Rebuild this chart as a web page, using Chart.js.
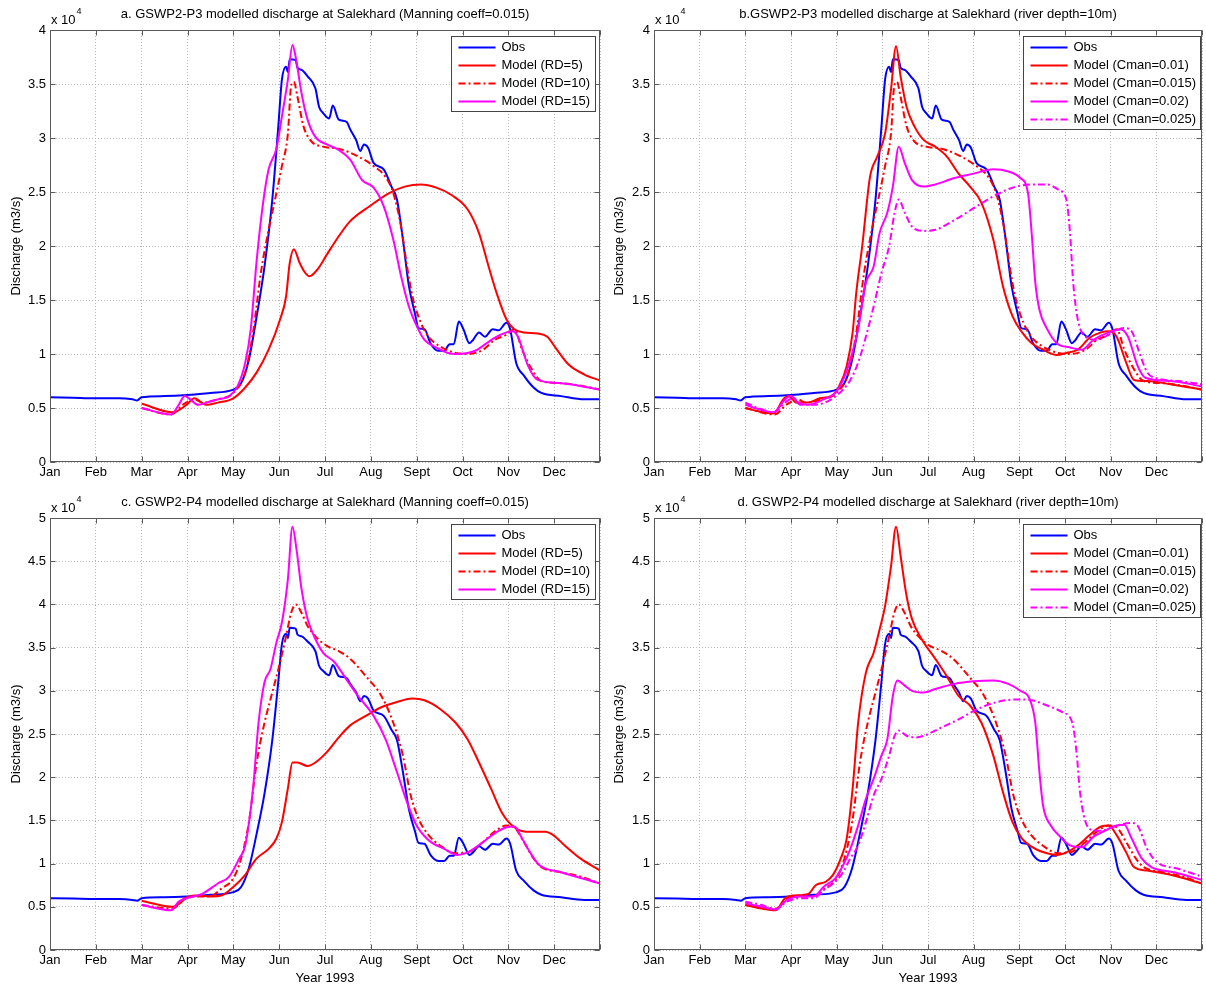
<!DOCTYPE html>
<html>
<head>
<meta charset="utf-8">
<script src="https://cdn.jsdelivr.net/npm/chart.js@4.4.1/dist/chart.umd.min.js"></script>
<style>
  body { margin: 0; background: #fff; }
  .panel { position: absolute; }
</style>
</head>
<body>
<div class="panel" style="left:0;top:0"><canvas id="chartA" width="603" height="490"></canvas></div>
<div class="panel" style="left:603px;top:0"><canvas id="chartB" width="603" height="490"></canvas></div>
<div class="panel" style="left:0;top:490px"><canvas id="chartC" width="603" height="502"></canvas></div>
<div class="panel" style="left:603px;top:490px"><canvas id="chartD" width="603" height="502"></canvas></div>
<script>
// x = month of 1993 (0 = 1 Jan, 12 = end of Dec), y = discharge in 10^4 m3/s
const months = ['Jan', 'Feb', 'Mar', 'Apr', 'May', 'Jun', 'Jul', 'Aug', 'Sept', 'Oct', 'Nov', 'Dec'];

const obs = [[0,0.60],[0.5,0.595],[1.0,0.59],[1.5,0.59],[1.8,0.58],[1.9,0.57],[2.0,0.60],[2.5,0.61],[3.0,0.62],[3.5,0.64],[4.0,0.67],[4.17,0.73],[4.34,0.95],[4.51,1.35],[4.68,1.81],[4.85,2.43],[4.98,3.10],[5.06,3.54],[5.15,3.66],[5.19,3.61],[5.23,3.73],[5.36,3.72],[5.40,3.65],[5.49,3.63],[5.62,3.57],[5.79,3.46],[5.87,3.29],[5.96,3.23],[6.09,3.18],[6.17,3.30],[6.30,3.17],[6.47,3.15],[6.55,3.08],[6.68,2.98],[6.77,2.88],[6.85,2.94],[6.94,2.91],[7.06,2.77],[7.28,2.71],[7.45,2.55],[7.57,2.43],[7.70,2.06],[7.83,1.63],[7.96,1.38],[8.04,1.24],[8.17,1.23],[8.30,1.10],[8.47,1.03],[8.60,1.03],[8.72,1.09],[8.81,1.09],[8.92,1.30],[9.02,1.23],[9.15,1.10],[9.23,1.13],[9.36,1.20],[9.49,1.16],[9.66,1.23],[9.79,1.22],[9.96,1.29],[10.04,1.23],[10.17,0.92],[10.34,0.80],[10.55,0.69],[10.72,0.64],[11.15,0.61],[11.66,0.58],[12,0.58]];

// GSWP2-P3 runs
const p3rd5 = [[2,0.54],[2.68,0.46],[2.98,0.53],[3.15,0.59],[3.4,0.53],[3.66,0.55],[4.0,0.59],[4.26,0.69],[4.51,0.83],[4.77,1.04],[5.02,1.32],[5.15,1.53],[5.23,1.84],[5.32,1.97],[5.45,1.84],[5.57,1.75],[5.66,1.72],[5.83,1.78],[6.04,1.92],[6.3,2.09],[6.55,2.23],[6.98,2.37],[7.4,2.49],[7.74,2.55],[8.09,2.57],[8.43,2.54],[8.77,2.47],[9.11,2.34],[9.36,2.12],[9.57,1.81],[9.74,1.57],[9.96,1.32],[10.13,1.23],[10.34,1.20],[10.64,1.19],[10.85,1.16],[11.06,1.04],[11.32,0.90],[11.66,0.81],[12,0.755]];
const p3rd10 = [[2,0.50],[2.64,0.44],[2.9,0.53],[3.15,0.58],[3.32,0.55],[3.66,0.58],[4.0,0.64],[4.26,0.83],[4.43,1.20],[4.6,1.75],[4.77,2.15],[4.94,2.49],[5.06,2.74],[5.19,3.04],[5.26,3.48],[5.32,3.52],[5.4,3.38],[5.53,3.11],[5.7,2.97],[5.96,2.92],[6.3,2.90],[6.72,2.83],[7.06,2.74],[7.32,2.64],[7.49,2.49],[7.66,2.18],[7.79,1.81],[7.91,1.53],[8.09,1.29],[8.26,1.16],[8.51,1.07],[8.85,1.01],[9.11,1.00],[9.45,1.04],[9.7,1.13],[9.96,1.18],[10.13,1.23],[10.3,1.04],[10.51,0.86],[10.72,0.75],[11.15,0.73],[11.66,0.70],[12,0.67]];
const p3rd15 = [[2,0.50],[2.64,0.44],[2.81,0.53],[2.94,0.61],[3.06,0.58],[3.23,0.53],[3.49,0.56],[3.66,0.58],[3.91,0.61],[4.09,0.70],[4.26,0.92],[4.38,1.23],[4.51,1.87],[4.64,2.37],[4.77,2.71],[4.94,2.90],[5.06,3.20],[5.19,3.54],[5.29,3.86],[5.36,3.75],[5.49,3.41],[5.62,3.17],[5.79,3.01],[6.04,2.94],[6.3,2.89],[6.55,2.80],[6.81,2.61],[7.06,2.54],[7.28,2.37],[7.49,2.06],[7.66,1.72],[7.83,1.44],[8.0,1.26],[8.17,1.13],[8.43,1.06],[8.68,1.01],[8.85,1.00],[9.11,1.01],[9.28,1.03],[9.53,1.10],[9.7,1.15],[9.96,1.20],[10.09,1.21],[10.21,1.16],[10.43,0.89],[10.64,0.76],[11.15,0.73],[12,0.67]];
const p3c01 = [[2,0.50],[2.28,0.47],[2.62,0.45],[2.83,0.58],[2.95,0.61],[3.12,0.55],[3.38,0.55],[3.63,0.59],[3.88,0.61],[4.05,0.70],[4.22,0.89],[4.35,1.20],[4.43,1.57],[4.56,2.00],[4.73,2.64],[4.89,2.83],[5.06,3.04],[5.19,3.45],[5.3,3.85],[5.4,3.57],[5.53,3.29],[5.7,3.11],[5.91,2.98],[6.16,2.92],[6.41,2.83],[6.67,2.67],[6.92,2.55],[7.17,2.40],[7.43,2.06],[7.64,1.63],[7.85,1.35],[8.06,1.20],[8.27,1.10],[8.52,1.04],[8.82,0.99],[9.03,1.01],[9.28,1.04],[9.54,1.15],[9.79,1.20],[9.96,1.21],[10.13,1.16],[10.34,0.92],[10.51,0.76],[10.8,0.75],[11.31,0.72],[12,0.67]];
const p3c015 = p3rd10; // same run: depth 10 m, Manning 0.015
const p3c02 = [[2,0.53],[2.28,0.49],[2.62,0.46],[2.87,0.58],[3.0,0.61],[3.16,0.55],[3.38,0.53],[3.71,0.58],[3.97,0.64],[4.14,0.76],[4.3,0.95],[4.47,1.23],[4.64,1.66],[4.81,1.81],[4.94,2.12],[5.11,2.31],[5.23,2.55],[5.36,2.92],[5.49,2.77],[5.65,2.61],[5.91,2.55],[6.16,2.57],[6.58,2.63],[7.0,2.67],[7.43,2.71],[7.76,2.69],[8.02,2.63],[8.19,2.49],[8.27,2.12],[8.35,1.66],[8.44,1.41],[8.61,1.23],[8.82,1.10],[9.11,1.06],[9.37,1.04],[9.62,1.13],[9.96,1.20],[10.21,1.23],[10.38,1.16],[10.59,0.89],[10.76,0.78],[11.31,0.75],[12,0.70]];
const p3c025 = [[2,0.55],[2.28,0.50],[2.62,0.46],[2.87,0.55],[3.04,0.59],[3.2,0.53],[3.54,0.53],[3.88,0.58],[4.14,0.67],[4.3,0.76],[4.47,0.92],[4.64,1.16],[4.81,1.44],[4.98,1.75],[5.15,2.00],[5.27,2.31],[5.36,2.43],[5.49,2.31],[5.65,2.18],[5.91,2.14],[6.16,2.15],[6.58,2.24],[7.0,2.35],[7.43,2.46],[7.85,2.54],[8.27,2.57],[8.61,2.57],[8.86,2.52],[9.03,2.43],[9.11,2.12],[9.18,1.66],[9.28,1.32],[9.45,1.16],[9.7,1.13],[9.96,1.18],[10.3,1.24],[10.46,1.21],[10.63,1.01],[10.8,0.83],[10.97,0.78],[11.48,0.75],[12,0.72]];

// GSWP2-P4 runs
const p4rd5 = [[2,0.57],[2.68,0.50],[2.98,0.60],[3.15,0.63],[3.53,0.62],[3.74,0.63],[4.0,0.73],[4.26,0.87],[4.51,1.06],[4.77,1.17],[4.94,1.29],[5.06,1.48],[5.19,1.87],[5.29,2.17],[5.4,2.17],[5.62,2.13],[5.79,2.17],[6.04,2.29],[6.3,2.46],[6.55,2.60],[6.89,2.71],[7.23,2.81],[7.57,2.87],[7.91,2.91],[8.17,2.89],[8.51,2.79],[8.85,2.63],[9.11,2.44],[9.36,2.17],[9.62,1.87],[9.87,1.58],[10.13,1.42],[10.38,1.37],[10.81,1.37],[10.98,1.33],[11.23,1.21],[11.57,1.06],[12,0.92]];
const p4rd10 = [[2,0.52],[2.68,0.48],[2.94,0.60],[3.15,0.62],[3.49,0.62],[3.74,0.71],[4.0,0.83],[4.17,1.06],[4.34,1.48],[4.51,2.17],[4.68,2.63],[4.85,2.98],[5.02,3.33],[5.15,3.63],[5.26,3.90],[5.36,4.00],[5.49,3.90],[5.62,3.75],[5.79,3.63],[6.04,3.52],[6.3,3.46],[6.55,3.37],[6.89,3.17],[7.23,2.94],[7.49,2.63],[7.7,2.25],[7.87,1.79],[8.04,1.52],[8.26,1.33],[8.51,1.21],[8.85,1.12],[9.11,1.13],[9.45,1.25],[9.7,1.37],[9.96,1.44],[10.13,1.42],[10.34,1.25],[10.55,1.06],[10.72,0.96],[11.15,0.90],[11.57,0.85],[12,0.77]];
const p4rd15 = [[2,0.52],[2.64,0.46],[2.81,0.56],[2.98,0.60],[3.32,0.65],[3.66,0.77],[3.91,0.85],[4.13,1.06],[4.26,1.21],[4.43,1.87],[4.55,2.63],[4.68,3.10],[4.81,3.25],[4.94,3.56],[5.06,3.79],[5.19,4.29],[5.29,4.90],[5.38,4.63],[5.49,4.17],[5.62,3.83],[5.79,3.60],[5.96,3.44],[6.21,3.33],[6.47,3.13],[6.72,2.94],[7.06,2.71],[7.32,2.44],[7.57,2.06],[7.79,1.71],[8.0,1.44],[8.26,1.27],[8.6,1.17],[8.89,1.10],[9.11,1.13],[9.45,1.25],[9.7,1.35],[9.96,1.42],[10.13,1.43],[10.3,1.29],[10.51,1.10],[10.68,0.98],[11.15,0.90],[12,0.77]];
const p4c01 = [[2,0.52],[2.36,0.48],[2.66,0.46],[2.87,0.60],[3.04,0.63],[3.38,0.65],[3.54,0.75],[3.76,0.79],[3.92,0.87],[4.09,1.06],[4.22,1.29],[4.35,1.87],[4.47,2.63],[4.64,3.21],[4.81,3.44],[4.94,3.71],[5.06,3.98],[5.19,4.44],[5.3,4.90],[5.4,4.56],[5.53,4.10],[5.65,3.83],[5.86,3.60],[6.16,3.37],[6.41,3.17],[6.67,2.94],[6.92,2.83],[7.17,2.63],[7.43,2.25],[7.64,1.83],[7.85,1.48],[8.06,1.29],[8.35,1.17],[8.61,1.12],[8.82,1.10],[9.03,1.13],[9.28,1.21],[9.54,1.33],[9.79,1.43],[9.96,1.44],[10.13,1.33],[10.34,1.13],[10.51,0.96],[10.8,0.92],[11.31,0.87],[12,0.77]];
const p4c015 = p4rd10; // same run: depth 10 m, Manning 0.015
const p4c02 = [[2,0.54],[2.36,0.50],[2.66,0.47],[2.91,0.58],[3.2,0.62],[3.5,0.62],[3.71,0.73],[3.97,0.83],[4.14,0.98],[4.3,1.17],[4.47,1.44],[4.64,1.75],[4.81,1.98],[4.98,2.25],[5.11,2.44],[5.23,2.94],[5.33,3.12],[5.49,3.06],[5.65,3.00],[5.91,2.98],[6.16,3.02],[6.58,3.08],[7.0,3.11],[7.43,3.12],[7.76,3.08],[8.02,3.00],[8.23,2.90],[8.35,2.63],[8.44,2.06],[8.52,1.67],[8.69,1.44],[8.86,1.33],[9.11,1.21],[9.37,1.19],[9.62,1.31],[9.87,1.38],[10.13,1.44],[10.3,1.45],[10.46,1.29],[10.68,1.06],[10.89,0.96],[11.39,0.90],[12,0.81]];
const p4c025 = [[2,0.56],[2.36,0.52],[2.66,0.47],[2.91,0.56],[3.2,0.60],[3.5,0.60],[3.71,0.69],[3.97,0.79],[4.14,0.90],[4.3,1.06],[4.47,1.21],[4.64,1.48],[4.81,1.79],[4.98,1.98],[5.15,2.25],[5.27,2.48],[5.36,2.54],[5.53,2.48],[5.74,2.46],[5.91,2.48],[6.24,2.56],[6.67,2.67],[7.09,2.79],[7.51,2.87],[7.93,2.90],[8.27,2.89],[8.61,2.83],[8.95,2.75],[9.16,2.63],[9.26,2.25],[9.32,1.87],[9.41,1.56],[9.54,1.40],[9.79,1.38],[10.13,1.44],[10.46,1.47],[10.59,1.44],[10.8,1.17],[11.01,1.02],[11.48,0.94],[12,0.85]];

const BLUE = '#0000ff', RED = '#ff0000', MAG = '#ff00ff';
const DASHDOT = [7, 3, 2, 3];
const FONT = '"Liberation Sans", Arial, sans-serif';

Chart.defaults.font.family = FONT;
Chart.defaults.font.size = 13;
Chart.defaults.color = '#000';

function series(label, pts, color, dash) {
    return {
        label: label,
        data: pts.map(p => ({ x: p[0], y: p[1] })),
        borderColor: color,
        borderDash: dash || [],
        borderWidth: 2,
        pointRadius: 0,
        fill: false,
        cubicInterpolationMode: 'monotone'
    };
}

// matlab style box, inward ticks, title, x10^4 and legend
const matlabFrame = {
    id: 'matlabFrame',
    afterDraw(chart, args, opts) {
        const { ctx, chartArea: a, scales } = chart;
        const L = Math.round(a.left) + 0.5, R = Math.round(a.right) - 0.5;
        const T = Math.round(a.top) + 0.5, B = Math.round(a.bottom) - 0.5;
        ctx.save();
        ctx.strokeStyle = '#5a5a5a';
        ctx.lineWidth = 1;
        ctx.setLineDash([]);
        ctx.strokeRect(L, T, R - L, B - T);
        ctx.beginPath();
        scales.x.ticks.forEach(t => {
            const px = Math.round(scales.x.getPixelForValue(t.value)) + 0.5;
            ctx.moveTo(px, B); ctx.lineTo(px, B - 5);
            ctx.moveTo(px, T); ctx.lineTo(px, T + 5);
        });
        scales.y.ticks.forEach(t => {
            const py = Math.round(scales.y.getPixelForValue(t.value)) + 0.5;
            ctx.moveTo(L, py); ctx.lineTo(L + 5, py);
            ctx.moveTo(R, py); ctx.lineTo(R - 5, py);
        });
        ctx.stroke();

        ctx.fillStyle = '#000';
        ctx.font = '13px ' + FONT;
        ctx.textAlign = 'center';
        ctx.textBaseline = 'middle';
        ctx.fillText(opts.title, (a.left + a.right) / 2, a.top - 16);

        ctx.textAlign = 'left';
        ctx.fillText('x 10', a.left + 1, a.top - 10);
        const w = ctx.measureText('x 10').width;
        ctx.font = '9px ' + FONT;
        ctx.fillText('4', a.left + 2 + w, a.top - 18);

        // legend
        const ds = chart.data.datasets;
        ctx.font = '13px ' + FONT;
        const tw = Math.max(...ds.map(d => ctx.measureText(d.label).width));
        const bw = Math.round(7 + 37 + 6 + tw + 5);
        const bh = 21 + (ds.length - 1) * 18;
        const bx = Math.round(a.right - opts.legendRight - bw) + 0.5;
        const by = Math.round(a.top + 6) + 0.5;
        ctx.fillStyle = '#fff';
        ctx.fillRect(bx, by, bw, bh);
        ctx.strokeStyle = '#444';
        ctx.strokeRect(bx, by, bw, bh);
        ds.forEach((d, i) => {
            const y = by + 11 + i * 18;
            ctx.strokeStyle = d.borderColor;
            ctx.lineWidth = 2;
            ctx.setLineDash(d.borderDash);
            ctx.beginPath();
            ctx.moveTo(bx + 7, y);
            ctx.lineTo(bx + 44, y);
            ctx.stroke();
            ctx.setLineDash([]);
            ctx.fillStyle = '#000';
            ctx.fillText(d.label, bx + 50, y);
        });
        ctx.restore();
    }
};

function makeChart(id, cfg) {
    const datasets = cfg.datasets;
    datasets.forEach((d, i) => { d.order = datasets.length - i; });
    return new Chart(document.getElementById(id), {
        type: 'line',
        data: { datasets: datasets },
        options: {
            responsive: false,
            animation: false,
            layout: { padding: { left: 5, right: cfg.padRight, top: cfg.padTop, bottom: 0 } },
            plugins: {
                legend: { display: false },
                tooltip: { enabled: false },
                matlabFrame: { title: cfg.title, legendRight: cfg.legendRight }
            },
            scales: {
                x: {
                    type: 'linear',
                    min: 0,
                    max: 12,
                    afterFit: s => { s.height = cfg.xHeight; },
                    ticks: {
                        stepSize: 1,
                        autoSkip: false,
                        maxRotation: 0,
                        padding: 3,
                        callback: v => months[v] || ''
                    },
                    grid: { color: '#b8b8b8', drawTicks: false },
                    border: { display: false, dash: [1, 2] },
                    title: {
                        display: !!cfg.xTitle,
                        text: cfg.xTitle || '',
                        padding: { top: 0, bottom: 6 }
                    }
                },
                y: {
                    min: 0,
                    max: cfg.yMax,
                    afterFit: s => { s.width = cfg.yWidth; },
                    ticks: {
                        stepSize: 0.5,
                        padding: 4,
                        callback: v => String(v)
                    },
                    grid: { color: '#b8b8b8', drawTicks: false },
                    border: { display: false, dash: [1, 2] },
                    title: {
                        display: true,
                        text: 'Discharge (m3/s)',
                        padding: { top: 4, bottom: 0 }
                    }
                }
            }
        },
        plugins: [matlabFrame]
    });
}

makeChart('chartA', {
    title: 'a. GSWP2-P3 modelled discharge at Salekhard (Manning coeff=0.015)',
    yMax: 4, padTop: 30, padRight: 3, xHeight: 28, yWidth: 45, legendRight: 5,
    datasets: [
        series('Obs', obs, BLUE),
        series('Model (RD=5)', p3rd5, RED),
        series('Model (RD=10)', p3rd10, RED, DASHDOT),
        series('Model (RD=15)', p3rd15, MAG)
    ]
});

makeChart('chartB', {
    title: 'b.GSWP2-P3 modelled discharge at Salekhard (river depth=10m)',
    yMax: 4, padTop: 30, padRight: 4, xHeight: 28, yWidth: 46, legendRight: 2,
    datasets: [
        series('Obs', obs, BLUE),
        series('Model (Cman=0.01)', p3c01, RED),
        series('Model (Cman=0.015)', p3c015, RED, DASHDOT),
        series('Model (Cman=0.02)', p3c02, MAG),
        series('Model (Cman=0.025)', p3c025, MAG, DASHDOT)
    ]
});

makeChart('chartC', {
    title: 'c. GSWP2-P4 modelled discharge at Salekhard (Manning coeff=0.015)',
    yMax: 5, padTop: 28, padRight: 3, xHeight: 42, yWidth: 45, legendRight: 5,
    xTitle: 'Year 1993',
    datasets: [
        series('Obs', obs, BLUE),
        series('Model (RD=5)', p4rd5, RED),
        series('Model (RD=10)', p4rd10, RED, DASHDOT),
        series('Model (RD=15)', p4rd15, MAG)
    ]
});

makeChart('chartD', {
    title: 'd. GSWP2-P4 modelled discharge at Salekhard (river depth=10m)',
    yMax: 5, padTop: 28, padRight: 4, xHeight: 42, yWidth: 46, legendRight: 2,
    xTitle: 'Year 1993',
    datasets: [
        series('Obs', obs, BLUE),
        series('Model (Cman=0.01)', p4c01, RED),
        series('Model (Cman=0.015)', p4c015, RED, DASHDOT),
        series('Model (Cman=0.02)', p4c02, MAG),
        series('Model (Cman=0.025)', p4c025, MAG, DASHDOT)
    ]
});
</script>
</body>
</html>
